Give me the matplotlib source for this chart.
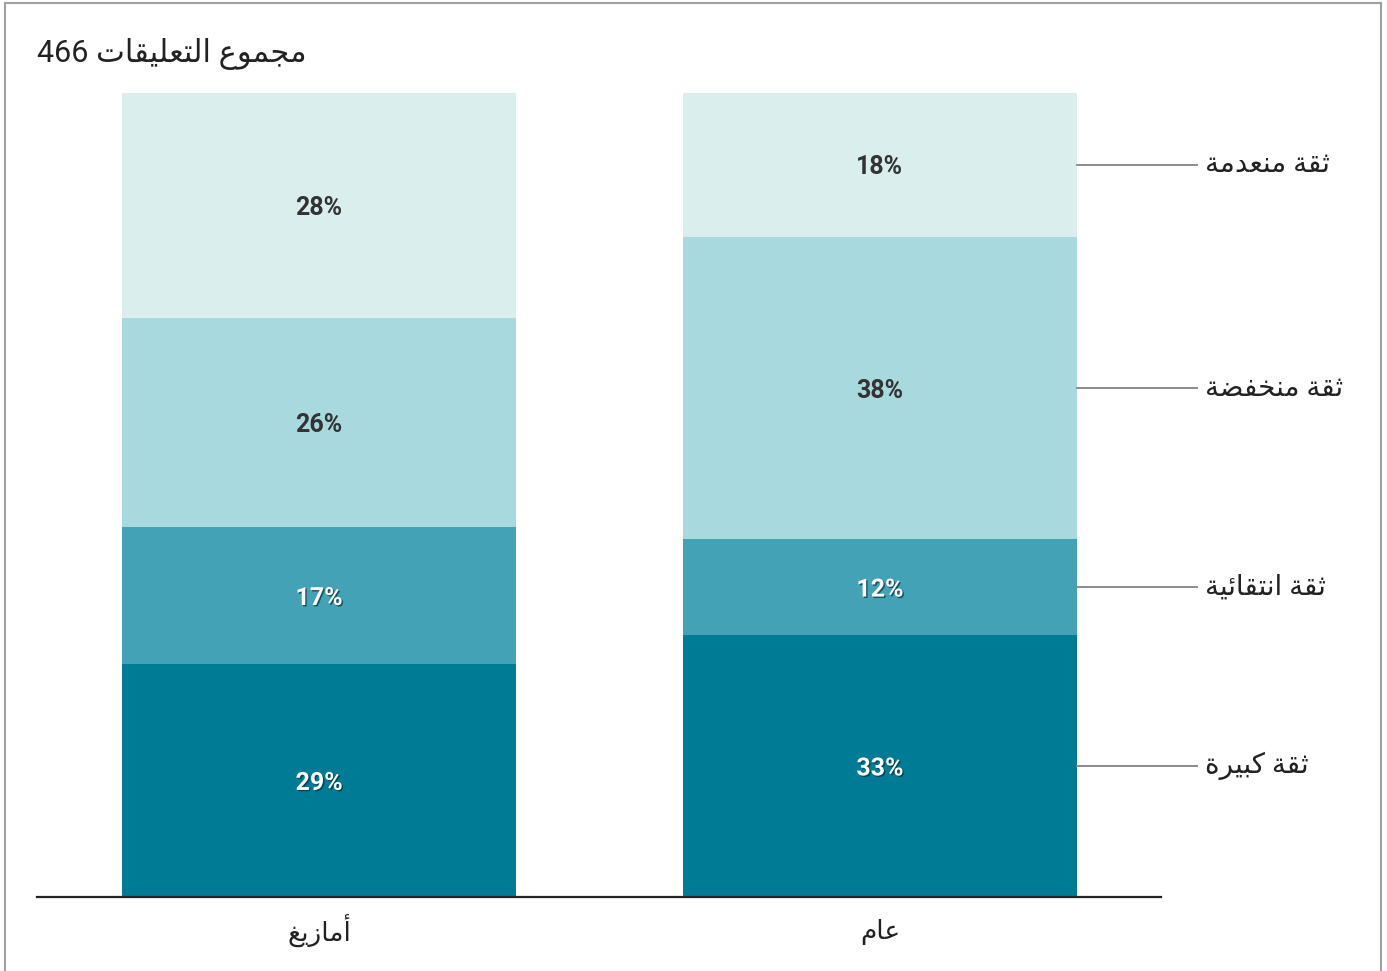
import re
import matplotlib
matplotlib.use("Agg")
import matplotlib.pyplot as plt
import matplotlib.patheffects as pe
from matplotlib.lines import Line2D

# data
categories = ["أمازيغ", "عام"]
levels = ["ثقة كبيرة", "ثقة انتقائية", "ثقة منخفضة", "ثقة منعدمة"]
amazigh = [29.0, 17.0, 26.0, 28.0]
general = [32.6, 11.9, 37.6, 17.9]
total_comments = 466
colors = ["#007b95", "#44a2b6", "#a7d9de", "#d9eeed"]
text_colors = ["white", "white", "#333333", "#333333"]

# minimal arabic shaping (matplotlib has no bidi / shaping)
FORMS = {
    "ا": ("\uFE8D", "\uFE8E"), "أ": ("\uFE83", "\uFE84"),
    "ب": ("\uFE8F", "\uFE90", "\uFE91", "\uFE92"), "ة": ("\uFE93", "\uFE94"),
    "ت": ("\uFE95", "\uFE96", "\uFE97", "\uFE98"), "ث": ("\uFE99", "\uFE9A", "\uFE9B", "\uFE9C"),
    "ج": ("\uFE9D", "\uFE9E", "\uFE9F", "\uFEA0"), "خ": ("\uFEA5", "\uFEA6", "\uFEA7", "\uFEA8"),
    "د": ("\uFEA9", "\uFEAA"), "ر": ("\uFEAD", "\uFEAE"), "ز": ("\uFEAF", "\uFEB0"),
    "ض": ("\uFEBD", "\uFEBE", "\uFEBF", "\uFEC0"), "ع": ("\uFEC9", "\uFECA", "\uFECB", "\uFECC"),
    "غ": ("\uFECD", "\uFECE", "\uFECF", "\uFED0"), "ف": ("\uFED1", "\uFED2", "\uFED3", "\uFED4"),
    "ق": ("\uFED5", "\uFED6", "\uFED7", "\uFED8"), "ك": ("\uFED9", "\uFEDA", "\uFEDB", "\uFEDC"),
    "ل": ("\uFEDD", "\uFEDE", "\uFEDF", "\uFEE0"), "م": ("\uFEE1", "\uFEE2", "\uFEE3", "\uFEE4"),
    "ن": ("\uFEE5", "\uFEE6", "\uFEE7", "\uFEE8"), "و": ("\uFEED", "\uFEEE"),
    "ي": ("\uFEF1", "\uFEF2", "\uFEF3", "\uFEF4"), "ئ": ("\uFE89", "\uFE8A", "\uFE8B", "\uFE8C"),
}


def ar(text):
    out = []
    for i, ch in enumerate(text):
        if ch not in FORMS:
            out.append(ch)
            continue
        prev = text[i - 1] if i > 0 else ""
        nxt = text[i + 1] if i + 1 < len(text) else ""
        join_prev = prev in FORMS and len(FORMS[prev]) == 4
        join_next = len(FORMS[ch]) == 4 and nxt in FORMS
        f = FORMS[ch]
        if join_prev and join_next:
            out.append(f[3])
        elif join_prev:
            out.append(f[1])
        elif join_next:
            out.append(f[2])
        else:
            out.append(f[0])
    s = "".join(out)[::-1]
    return re.sub(r"\d+", lambda m: m.group()[::-1], s)


plt.rcParams["font.family"] = ["Roboto", "DejaVu Sans"]

W, H = 1387, 971
fig = plt.figure(figsize=(W / 100, H / 100), dpi=100)
ax = fig.add_axes([37 / W, (H - 897) / H, (1161 - 37) / W, (897 - 93) / H])

x = [0, 1]
width = 0.702
shadow = [pe.SimplePatchShadow(offset=(1, -1), shadow_rgbFace="#00303c", alpha=0.7), pe.Normal()]
bottoms = [0.0, 0.0]
for k in range(len(levels)):
    vals = [amazigh[k], general[k]]
    ax.bar(x, vals, width, bottom=bottoms, color=colors[k], linewidth=0)
    for j in range(2):
        yc = bottoms[j] + vals[j] / 2
        t = ax.text(x[j], yc, f"{round(vals[j])}%", ha="center", va="center_baseline",
                    fontsize=18, fontweight="bold", color=text_colors[k])
        if text_colors[k] == "white":
            t.set_path_effects(shadow)
    # legend line next to the second bar
    yc = bottoms[1] + vals[1] / 2
    ax.plot([1 + width / 2, 1.565], [yc, yc], color="#8c8c8c", lw=1.4, clip_on=False)
    ax.text(1.579, yc, ar(levels[k]), ha="left", va="center", fontsize=20, color="#222222")
    bottoms = [bottoms[j] + vals[j] for j in range(2)]

ax.set_xlim(-0.503, 1.501)
ax.set_ylim(0, 100)
ax.set_xticks(x)
ax.set_xticklabels([ar(c) for c in categories], fontsize=19, color="#222222", va="center")
ax.tick_params(axis="x", length=0, pad=25)
ax.set_yticks([])
for side in ["top", "left", "right"]:
    ax.spines[side].set_visible(False)
ax.spines["bottom"].set_linewidth(1.6)
ax.spines["bottom"].set_color("#222222")

fig.text(37 / W, 1 - 54 / H, ar(f"مجموع التعليقات {total_comments}"), ha="left", va="center",
         fontsize=22, color="#222222")

# thin gray frame around the graphic
for xs, ys in [([5, 5], [3, 975]), ([5, 1381], [3, 3]), ([1381, 1381], [3, 975])]:
    fig.add_artist(Line2D([v / W for v in xs], [1 - v / H for v in ys], color="#a0a0a0", lw=1.5))

fig.savefig("out.png", dpi=100)
